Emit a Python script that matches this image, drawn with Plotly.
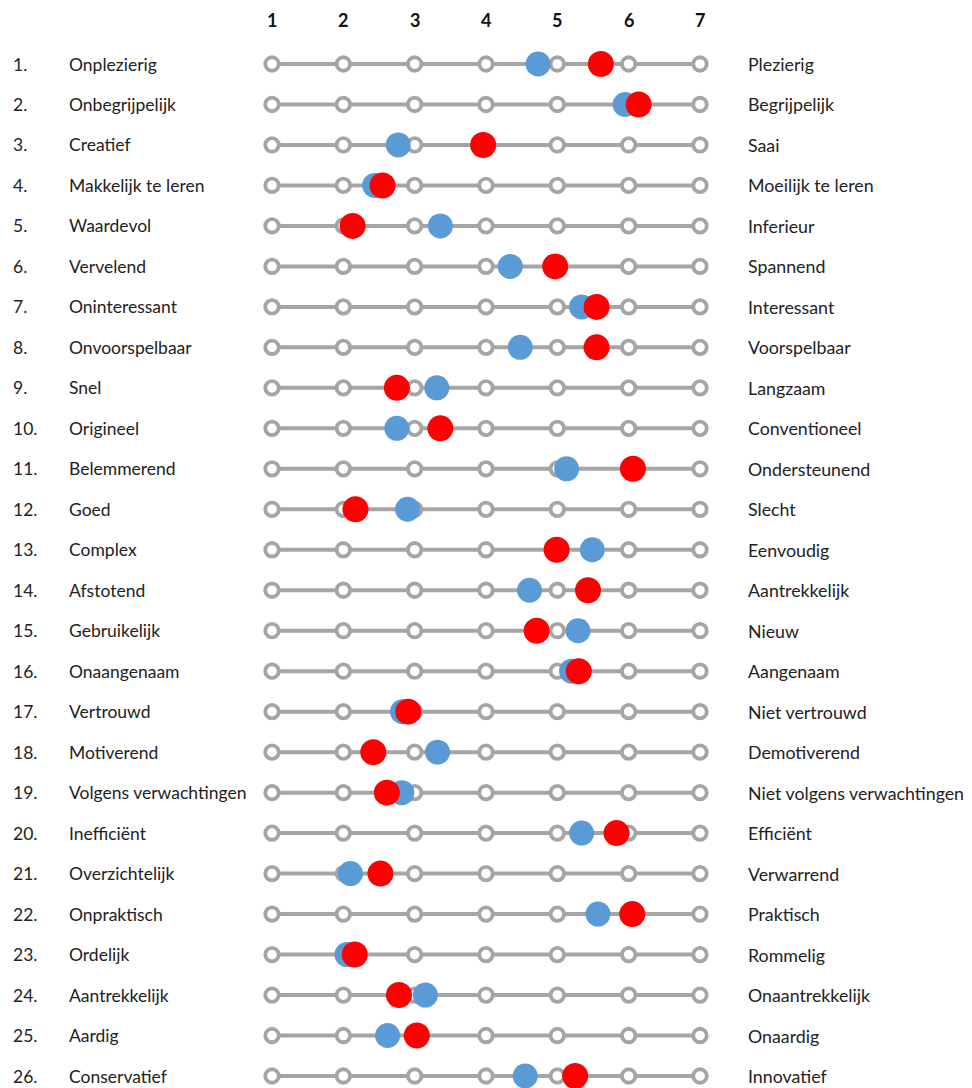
import plotly.graph_objects as go

row_numbers = [f"{i}." for i in range(1, 27)]
left_labels = ["Onplezierig", "Onbegrijpelijk", "Creatief", "Makkelijk te leren", "Waardevol",
               "Vervelend", "Oninteressant", "Onvoorspelbaar", "Snel", "Origineel",
               "Belemmerend", "Goed", "Complex", "Afstotend", "Gebruikelijk",
               "Onaangenaam", "Vertrouwd", "Motiverend", "Volgens verwachtingen", "Inefficiënt",
               "Overzichtelijk", "Onpraktisch", "Ordelijk", "Aantrekkelijk", "Aardig",
               "Conservatief"]
right_labels = ["Plezierig", "Begrijpelijk", "Saai", "Moeilijk te leren", "Inferieur",
                "Spannend", "Interessant", "Voorspelbaar", "Langzaam", "Conventioneel",
                "Ondersteunend", "Slecht", "Eenvoudig", "Aantrekkelijk", "Nieuw",
                "Aangenaam", "Niet vertrouwd", "Demotiverend", "Niet volgens verwachtingen", "Efficiënt",
                "Verwarrend", "Praktisch", "Rommelig", "Onaantrekkelijk", "Onaardig",
                "Innovatief"]
blue_values = [4.73, 5.95, 2.77, 2.44, 3.36, 4.34, 5.34, 4.48, 3.31, 2.75,
               5.13, 2.90, 5.49, 4.61, 5.29, 5.20, 2.83, 3.32, 2.82, 5.34,
               2.10, 5.57, 2.05, 3.15, 2.62, 4.55]
red_values = [5.61, 6.14, 3.96, 2.55, 2.13, 4.97, 5.55, 5.55, 2.75, 3.36,
              6.06, 2.17, 4.99, 5.43, 4.71, 5.30, 2.91, 2.42, 2.61, 5.83,
              2.52, 6.05, 2.16, 2.78, 3.03, 5.25]
scale_points = [1, 2, 3, 4, 5, 6, 7]
scale_labels = ["1", "2", "3", "4", "5", "6", "7"]

W, H = 972, 1088
font_family = "Lato, 'Open Sans', sans-serif"

fig = go.Figure()

rows = list(range(1, 27))
for r in rows:
    fig.add_trace(go.Scatter(
        x=scale_points, y=[r] * len(scale_points), mode="lines+markers",
        line=dict(color="#a5a5a5", width=4),
        marker=dict(symbol="circle", size=13.5, color="white",
                    line=dict(color="#a5a5a5", width=3.8)),
        hoverinfo="skip", showlegend=False))

fig.add_trace(go.Scatter(
    x=blue_values, y=rows, mode="markers",
    marker=dict(size=25, color="#5b9bd5", line=dict(width=0)),
    showlegend=False))
fig.add_trace(go.Scatter(
    x=red_values, y=rows, mode="markers",
    marker=dict(size=26, color="#ff0000", line=dict(width=0)),
    showlegend=False))

annotations = []
for r, num, lt, rt in zip(rows, row_numbers, left_labels, right_labels):
    annotations.append(dict(x=11 / W, xref="paper", y=r, yref="y", text=num,
                            xanchor="left", yanchor="middle", showarrow=False,
                            font=dict(size=17.5, color="#222222", family=font_family)))
    annotations.append(dict(x=67 / W, xref="paper", y=r, yref="y", text=lt,
                            xanchor="left", yanchor="middle", showarrow=False,
                            font=dict(size=17.5, color="#222222", family=font_family)))
    annotations.append(dict(x=746 / W, xref="paper", y=r, yref="y", text=rt,
                            xanchor="left", yanchor="middle", showarrow=False,
                            font=dict(size=17.8, color="#222222", family=font_family)))
for p, lab in zip(scale_points, scale_labels):
    annotations.append(dict(x=p, xref="x", y=-0.08, yref="y", text=f"<b>{lab}</b>",
                            xanchor="center", yanchor="middle", showarrow=False,
                            font=dict(size=18, color="#111111", family=font_family)))

unit = 428 / 6.0
x0 = 1 - 272 / unit
x1 = x0 + W / unit
yunit = (1076 - 64) / 25.0
ytop = 1 - 64 / yunit
ybot = ytop + H / yunit

fig.update_layout(
    width=W, height=H,
    margin=dict(l=0, r=0, t=0, b=0),
    paper_bgcolor="white", plot_bgcolor="white",
    xaxis=dict(range=[x0, x1], visible=False, fixedrange=True),
    yaxis=dict(range=[ybot, ytop], visible=False, fixedrange=True),
    annotations=annotations,
    showlegend=False,
    hovermode=False,
)

fig.write_html(
    "out.html",
    config={"displayModeBar": False, "staticPlot": True},
    post_script="document.body.style.margin='0';document.body.style.overflow='hidden';",
)
